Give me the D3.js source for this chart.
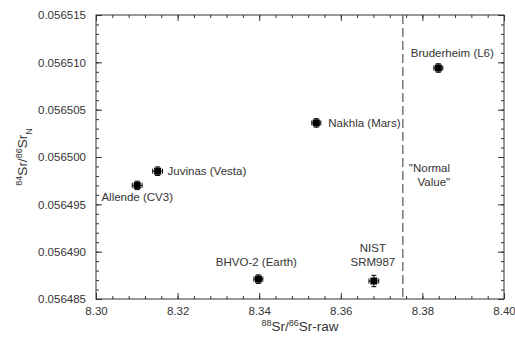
<!DOCTYPE html>
<html>
<head>
<meta charset="utf-8">
<script src="https://cdn.jsdelivr.net/npm/d3@7"></script>
<style>
  body { margin: 0; background: #fff; }
  svg text { font-family: "Liberation Sans", Arial, sans-serif; fill: #333; }
</style>
</head>
<body>
<div id="chart"></div>
<script>
// sample data
const samples = ['Allende (CV3)', 'Juvinas (Vesta)', 'BHVO-2 (Earth)', 'NIST SRM987', 'Nakhla (Mars)', 'Bruderheim (L6)'];
const srRaw = [8.3101, 8.3151, 8.3398, 8.3681, 8.3540, 8.3839];
const srNorm = [0.0564970, 0.0564985, 0.0564871, 0.0564869, 0.0565036, 0.0565094];
const errX = [0.0012, 0.0012, 0.0011, 0.0012, 0.0011, 0.0011];
const errY = [0.00000045, 0.00000045, 0.00000045, 0.0000006, 0.00000045, 0.00000045];
const normalValue = 8.375209;

const xTicks = [8.30, 8.32, 8.34, 8.36, 8.38, 8.40];
const yTicks = [0.056485, 0.056490, 0.056495, 0.056500, 0.056505, 0.056510, 0.056515];

// label placement (offsets from the point, in px) and anchors
const labelLayout = [
  { dx: 0, dy: 16, anchor: 'middle' },
  { dx: 10, dy: 4, anchor: 'start' },
  { dx: -2, dy: -13, anchor: 'middle' },
  { dx: -1, dy: -15, anchor: 'middle', lines: ['NIST', 'SRM987'] },
  { dx: 12, dy: 4, anchor: 'start' },
  { dx: 14, dy: -11, anchor: 'middle' }
];

const W = 515, H = 345;
const margin = { top: 15, right: 11, bottom: 46, left: 96 };
const width = W - margin.left - margin.right;
const height = H - margin.top - margin.bottom;

const svg = d3.select('#chart').append('svg')
  .attr('width', W).attr('height', H);
const g = svg.append('g')
  .attr('transform', 'translate(' + margin.left + ',' + margin.top + ')');

const x = d3.scaleLinear().domain([8.30, 8.40]).range([0, width]);
const y = d3.scaleLinear().domain([0.056485, 0.056515]).range([height, 0]);

const xMinor = d3.range(0, 26).map(i => 8.30 + i * 0.004);
const yMinor = d3.range(0, 31).map(i => 0.056485 + i * 0.000001);

const fmtY = d3.format('.6f');
const fmtX = d3.format('.2f');

// axes: ticks pointing inward, mirrored on top/right
function styleAxis(sel) {
  sel.select('.domain').remove();
  sel.selectAll('line').attr('stroke', '#333');
  sel.selectAll('text').style('font-size', '11.5px').attr('fill', '#333');
}

g.append('g').attr('transform', 'translate(0,' + height + ')')
  .call(d3.axisBottom(x).tickValues(xMinor).tickSize(-3).tickFormat(''))
  .call(styleAxis);
g.append('g').attr('transform', 'translate(0,' + height + ')')
  .call(d3.axisBottom(x).tickValues(xTicks).tickSize(-6).tickPadding(8).tickFormat(fmtX))
  .call(styleAxis);
g.append('g')
  .call(d3.axisTop(x).tickValues(xMinor).tickSize(-3).tickFormat(''))
  .call(styleAxis);
g.append('g')
  .call(d3.axisTop(x).tickValues(xTicks).tickSize(-6).tickFormat(''))
  .call(styleAxis);

g.append('g')
  .call(d3.axisLeft(y).tickValues(yMinor).tickSize(-3).tickFormat(''))
  .call(styleAxis);
g.append('g')
  .call(d3.axisLeft(y).tickValues(yTicks).tickSize(-6).tickPadding(10).tickFormat(fmtY))
  .call(styleAxis);
g.append('g').attr('transform', 'translate(' + width + ',0)')
  .call(d3.axisRight(y).tickValues(yMinor).tickSize(-3).tickFormat(''))
  .call(styleAxis);
g.append('g').attr('transform', 'translate(' + width + ',0)')
  .call(d3.axisRight(y).tickValues(yTicks).tickSize(-6).tickFormat(''))
  .call(styleAxis);

// frame
g.append('rect')
  .attr('x', 0).attr('y', 0).attr('width', width).attr('height', height)
  .attr('fill', 'none').attr('stroke', '#333').attr('stroke-width', 1);

// normal value line
g.append('line')
  .attr('x1', x(normalValue)).attr('x2', x(normalValue))
  .attr('y1', 0).attr('y2', height)
  .attr('stroke', '#555').attr('stroke-width', 1.2)
  .attr('stroke-dasharray', '9,4');

g.append('text')
  .attr('x', x(normalValue) + 6).attr('y', y(0.0564984))
  .style('font-size', '11.5px')
  .text('"Normal');
g.append('text')
  .attr('x', x(normalValue) + 31).attr('y', y(0.0564969))
  .attr('text-anchor', 'middle')
  .style('font-size', '11.5px')
  .text('Value"');

const data = samples.map((s, i) => ({
  name: s, x: srRaw[i], y: srNorm[i], ex: errX[i], ey: errY[i], lab: labelLayout[i]
}));

// error bars
const eb = g.selectAll('.err').data(data).enter().append('g').attr('class', 'err')
  .attr('stroke', '#000').attr('stroke-width', 1);
eb.append('line')
  .attr('x1', d => x(d.x - d.ex)).attr('x2', d => x(d.x + d.ex))
  .attr('y1', d => y(d.y)).attr('y2', d => y(d.y));
eb.append('line')
  .attr('x1', d => x(d.x)).attr('x2', d => x(d.x))
  .attr('y1', d => y(d.y - d.ey)).attr('y2', d => y(d.y + d.ey));
eb.append('line')
  .attr('x1', d => x(d.x - d.ex)).attr('x2', d => x(d.x - d.ex))
  .attr('y1', d => y(d.y) - 2.5).attr('y2', d => y(d.y) + 2.5);
eb.append('line')
  .attr('x1', d => x(d.x + d.ex)).attr('x2', d => x(d.x + d.ex))
  .attr('y1', d => y(d.y) - 2.5).attr('y2', d => y(d.y) + 2.5);
eb.append('line')
  .attr('x1', d => x(d.x) - 2.5).attr('x2', d => x(d.x) + 2.5)
  .attr('y1', d => y(d.y - d.ey)).attr('y2', d => y(d.y - d.ey));
eb.append('line')
  .attr('x1', d => x(d.x) - 2.5).attr('x2', d => x(d.x) + 2.5)
  .attr('y1', d => y(d.y + d.ey)).attr('y2', d => y(d.y + d.ey));

// markers
g.selectAll('.pt').data(data).enter().append('rect')
  .attr('class', 'pt')
  .attr('x', d => x(d.x) - 3.5).attr('y', d => y(d.y) - 3.5)
  .attr('width', 7).attr('height', 7)
  .attr('fill', '#000');

// sample labels
data.forEach(d => {
  const lines = d.lab.lines || [d.name];
  const t = g.append('text')
    .attr('x', x(d.x) + d.lab.dx)
    .attr('y', y(d.y) + d.lab.dy)
    .attr('text-anchor', d.lab.anchor)
    .style('font-size', '11.5px');
  lines.forEach((l, i) => {
    t.append('tspan')
      .attr('x', x(d.x) + d.lab.dx)
      .attr('dy', i === 0 ? (-(lines.length - 1) * 14) : 14)
      .text(l);
  });
});

// axis titles
const xt = svg.append('text')
  .attr('x', margin.left + width / 2).attr('y', H - 14)
  .attr('text-anchor', 'middle')
  .style('font-size', '13.5px');
xt.append('tspan').attr('baseline-shift', 'super').style('font-size', '9px').text('88');
xt.append('tspan').text('Sr/');
xt.append('tspan').attr('baseline-shift', 'super').style('font-size', '9px').text('86');
xt.append('tspan').text('Sr-raw');

const yt = svg.append('text')
  .attr('transform', 'translate(27,' + (margin.top + height / 2) + ') rotate(-90)')
  .attr('text-anchor', 'middle')
  .style('font-size', '13.5px');
yt.append('tspan').attr('baseline-shift', 'super').style('font-size', '9px').text('84');
yt.append('tspan').text('Sr/');
yt.append('tspan').attr('baseline-shift', 'super').style('font-size', '9px').text('86');
yt.append('tspan').text('Sr');
yt.append('tspan').attr('baseline-shift', 'sub').style('font-size', '9px').text('N');
</script>
</body>
</html>
